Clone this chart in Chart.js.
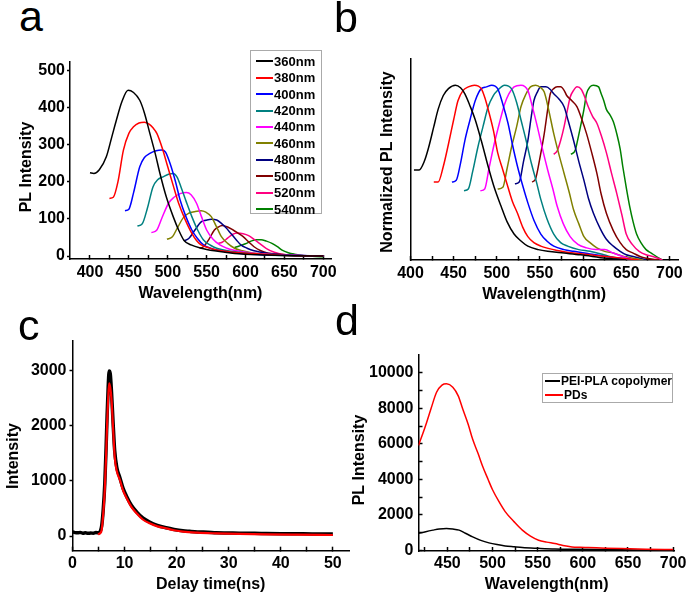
<!DOCTYPE html>
<html>
<head>
<meta charset="utf-8">
<script src="https://cdn.jsdelivr.net/npm/chart.js@4.4.1/dist/chart.umd.min.js"></script>
<style>
  body { margin: 0; background: #fff; }
  #fig { position: relative; width: 694px; height: 600px; overflow: hidden; font-family: 'Liberation Sans', Arial, sans-serif; color: #000; }
  #fig canvas { position: absolute; }
  .tag { position: absolute; font-size: 43px; line-height: 43px; }
  .legend { position: absolute; border: 1px solid #aaa; background: #fff; font-weight: bold; box-sizing: border-box; }
  .legend .row { display: flex; align-items: center; white-space: nowrap; }
  .legend .swatch { display: inline-block; height: 2px; margin-right: 1px; }
</style>
</head>
<body>
<div id="fig">
  <canvas id="chartA"></canvas>
  <canvas id="chartB"></canvas>
  <canvas id="chartC"></canvas>
  <canvas id="chartD"></canvas>
  <div class="tag" style="left:19px;top:-5px">a</div>
  <div class="tag" style="left:334px;top:-4px">b</div>
  <div class="tag" style="left:18px;top:304px">c</div>
  <div class="tag" style="left:335px;top:299px">d</div>
  <div class="legend" id="legendA" style="left:250px;top:50px;width:72px;height:164px;padding:2px 0 0 5px;font-size:13px"></div>
  <div class="legend" id="legendD" style="left:542px;top:373px;width:131px;height:30px;padding:0 0 0 2px;font-size:12px"></div>
</div>
<script>
// excitation wavelengths (panel a/b legend) and their colours
const excitation = ['360nm', '380nm', '400nm', '420nm', '440nm', '460nm', '480nm', '500nm', '520nm', '540nm'];
const excColors = ['#000000', '#ff0000', '#0000ff', '#008080', '#ff00ff', '#808000', '#000080', '#800000', '#ff0080', '#008000'];

// tick positions (labels are drawn on every `every`-th value, the rest are minor marks)
const wlTicks = [400, 425, 450, 475, 500, 525, 550, 575, 600, 625, 650, 675, 700];
const wlTicksD = [425, 450, 475, 500, 525, 550, 575, 600, 625, 650, 675, 700];
const aYTicks = [0, 100, 200, 300, 400, 500];
const cXTicks = [0, 5, 10, 15, 20, 25, 30, 35, 40, 45, 50];
const cYTicks = [0, 1000, 2000, 3000];
const dYTicks = [0, 1000, 2000, 3000, 4000, 5000, 6000, 7000, 8000, 9000, 10000];

// --- panel a: PL spectra [wavelength nm, intensity] ---
const a360 = [[400,224],[405,222],[412,232],[421,267],[428,320],[434,366],[441,415],[449,446],[456,440],[464,419],[470,385],[477,330],[484,275],[490,222],[498,160],[507,106],[514,70],[521,42],[530,30],[543,21],[560,14],[586,7],[627,3],[660,1],[700,0]];
const a380 = [[425,155],[430,158],[436,200],[443,285],[450,330],[456,348],[463,358],[470,360],[476,355],[481,345],[486,330],[493,290],[500,240],[507,190],[514,142],[522,100],[531,61],[537,42],[543,30],[553,22],[563,16],[585,10],[607,7],[640,3],[670,1],[700,0]];
const a400 = [[445,122],[450,126],[456,170],[464,240],[470,265],[477,276],[485,283],[492,285],[497,280],[503,249],[510,200],[516,150],[523,108],[531,70],[538,48],[546,30],[555,21],[563,16],[584,9],[607,5],[650,2],[700,0]];
const a420 = [[461,81],[467,86],[474,130],[481,186],[487,205],[494,213],[501,220],[507,222],[512,212],[517,186],[524,145],[531,106],[538,72],[546,43],[555,29],[563,21],[584,12],[606,7],[627,3],[665,1],[700,0]];
const a440 = [[479,63],[486,70],[493,105],[501,142],[508,158],[516,168],[524,171],[530,165],[537,142],[543,108],[550,70],[558,46],[567,30],[576,21],[584,16],[605,9],[627,5],[660,2],[700,0]];
const a460 = [[499,45],[506,52],[513,78],[521,106],[527,115],[534,119],[543,122],[549,118],[556,106],[562,82],[569,52],[577,34],[586,21],[596,14],[607,9],[628,5],[649,3],[680,1],[700,0]];
const a480 = [[521,41],[527,47],[535,70],[543,92],[549,96],[556,99],[563,97],[569,88],[575,76],[581,61],[588,44],[594,30],[602,21],[611,14],[630,7],[649,3],[680,1],[700,0]];
const a500 = [[541,21],[546,25],[553,45],[560,70],[565,78],[570,82],[577,78],[584,70],[590,62],[597,52],[604,38],[611,25],[619,15],[627,9],[648,4],[670,1],[700,0]];
const a520 = [[565,34],[570,37],[577,48],[583,58],[590,62],[597,60],[604,55],[611,45],[618,34],[627,20],[637,10],[649,4],[670,1],[700,0]];
const a540 = [[586,23],[592,27],[600,33],[607,40],[614,44],[620,44],[627,40],[634,34],[641,25],[647,16],[655,9],[663,5],[675,1],[690,-1],[700,-2]];

// --- panel b: normalized spectra ---
const b360 = [[404,0.51],[410,0.51],[416,0.56],[421,0.64],[427,0.76],[432,0.86],[438,0.94],[444,0.98],[452,1.0],[458,0.985],[463,0.95],[469,0.88],[475,0.80],[482,0.68],[490,0.53],[497,0.41],[505,0.30],[512,0.21],[520,0.14],[528,0.10],[536,0.07],[548,0.05],[559,0.04],[578,0.03],[597,0.02],[627,0.0],[650,-0.01]];
const b380 = [[427,0.44],[432,0.44],[438,0.53],[444,0.66],[450,0.80],[455,0.91],[461,0.97],[467,0.99],[474,1.0],[482,0.98],[486,0.93],[490,0.86],[496,0.74],[501,0.61],[507,0.51],[513,0.41],[518,0.33],[524,0.26],[530,0.18],[536,0.125],[543,0.09],[551,0.07],[570,0.045],[589,0.03],[608,0.02],[627,0.01],[645,0.0],[665,-0.01]];
const b400 = [[448,0.44],[453,0.45],[458,0.55],[463,0.68],[469,0.80],[475,0.91],[482,0.98],[488,0.99],[494,1.0],[501,0.98],[507,0.89],[513,0.78],[518,0.66],[524,0.53],[530,0.42],[536,0.32],[543,0.22],[551,0.14],[558,0.10],[566,0.07],[578,0.05],[589,0.04],[608,0.025],[627,0.01],[645,0.0],[658,-0.01]];
const b420 = [[462,0.39],[467,0.40],[472,0.50],[478,0.64],[484,0.76],[490,0.875],[496,0.94],[501,0.97],[509,1.0],[517,0.98],[523,0.90],[528,0.80],[534,0.68],[540,0.55],[546,0.44],[551,0.34],[558,0.23],[566,0.14],[574,0.09],[582,0.07],[595,0.05],[608,0.04],[624,0.02],[639,0.0],[665,-0.02]];
const b440 = [[481,0.39],[486,0.40],[491,0.52],[497,0.66],[503,0.78],[509,0.89],[514,0.95],[520,0.99],[528,1.0],[536,0.97],[541,0.88],[547,0.76],[553,0.63],[559,0.51],[565,0.40],[570,0.30],[577,0.20],[585,0.125],[594,0.08],[604,0.06],[615,0.05],[625,0.05],[635,0.03],[646,0.01],[665,-0.02]];
const b460 = [[501,0.40],[507,0.41],[512,0.52],[517,0.64],[523,0.76],[528,0.875],[534,0.95],[539,0.99],[545,1.0],[551,0.985],[555,0.96],[560,0.86],[566,0.72],[572,0.60],[578,0.49],[584,0.38],[589,0.28],[595,0.20],[601,0.125],[608,0.09],[616,0.06],[625,0.04],[635,0.03],[647,0.01],[658,0.0],[670,-0.01]];
const b480 = [[521,0.43],[526,0.44],[531,0.56],[536,0.68],[540,0.82],[543,0.91],[547,0.96],[551,0.99],[557,0.99],[562,0.975],[566,0.95],[572,0.92],[578,0.875],[583,0.79],[589,0.68],[595,0.56],[601,0.45],[606,0.35],[612,0.26],[620,0.17],[627,0.11],[635,0.07],[643,0.04],[650,0.02],[658,0.01],[673,-0.01]];
const b500 = [[541,0.44],[545,0.46],[550,0.58],[555,0.72],[559,0.86],[562,0.95],[566,0.98],[570,0.99],[574,0.99],[578,0.97],[581,0.94],[587,0.91],[593,0.875],[598,0.81],[604,0.72],[610,0.61],[616,0.49],[621,0.37],[627,0.26],[635,0.16],[643,0.09],[650,0.05],[658,0.03],[666,0.01],[673,0.0],[688,-0.01]];
const b520 = [[566,0.60],[570,0.62],[574,0.68],[578,0.76],[582,0.86],[585,0.93],[589,0.97],[593,0.99],[598,0.975],[602,0.93],[606,0.875],[611,0.82],[616,0.78],[621,0.71],[627,0.61],[633,0.49],[639,0.375],[645,0.25],[650,0.14],[657,0.08],[665,0.04],[673,0.02],[681,0.01],[692,-0.01]];
const b540 = [[586,0.60],[591,0.625],[594,0.69],[597,0.76],[601,0.86],[604,0.95],[608,0.99],[612,1.0],[618,0.99],[621,0.95],[624,0.91],[627,0.86],[631,0.83],[635,0.79],[639,0.72],[643,0.63],[646,0.53],[650,0.41],[654,0.30],[658,0.21],[662,0.14],[667,0.09],[673,0.05],[679,0.03],[685,0.01],[692,-0.01]];

// --- panel c: decay [delay ns, counts] ---
const cDecay = [[0,75],[0.5,62],[1,58],[1.5,66],[2,52],[2.5,60],[3,48],[3.5,55],[4,50],[4.5,62],[5,58],[5.3,80],[5.6,180],[5.9,480],[6.2,950],[6.45,1600],[6.65,2200],[6.85,2700],[7.05,3000],[7.25,2950],[7.5,2600],[7.8,2050],[8.1,1550],[8.5,1250],[9.1,1060],[9.7,870],[10.4,720],[11.3,560],[12.3,440],[13.5,330],[14.8,255],[16.3,195],[18,150],[19.5,120],[21.2,95],[22.5,85],[24,75],[26,68],[27.6,60],[30,55],[32,50],[35,48],[37.2,45],[40,42],[43,40],[46,38],[50,36]];
const cFit = [[4.9,30],[5.3,50],[5.6,110],[5.9,400],[6.2,836],[6.45,1450],[6.65,2048],[6.85,2500],[7.03,2776],[7.25,2700],[7.5,2470],[7.8,1950],[8.1,1440],[8.5,1180],[9.1,1018],[9.7,830],[10.4,685],[11.3,530],[12.3,412],[13.5,300],[14.8,230],[16.3,175],[18,139],[19.5,105],[21.2,79],[24,60],[27.6,48],[32,38],[37.2,30],[43,24],[50,18]];

// --- panel d: PL spectra ---
const dNames = ['PEI-PLA copolymer', 'PDs'];
const dPEI = [[418,947],[426,1050],[434,1136],[441,1200],[449,1230],[456,1200],[463,1136],[470,960],[478,758],[487,560],[496,417],[505,320],[514,246],[524,195],[533,152],[551,110],[569,76],[596,55],[624,38],[660,20],[700,5]];
const dPD = [[418,5909],[423,6600],[427,7197],[432,8000],[438,8900],[444,9300],[449,9375],[456,9186],[462,8700],[467,7955],[473,7100],[478,6250],[484,5450],[489,4735],[495,4000],[500,3409],[507,2750],[514,2178],[524,1600],[533,1136],[542,800],[551,568],[560,460],[569,379],[578,270],[588,190],[597,165],[606,152],[625,120],[643,95],[670,65],[700,38]];

const font16 = { family: "'Liberation Sans', Arial, sans-serif", size: 16, weight: 'bold' };

function line(arr, color, width) {
    return { data: arr.map(([x, y]) => ({ x, y })), borderColor: color, borderWidth: width || 1.5,
             pointRadius: 0, fill: false, cubicInterpolationMode: 'monotone' };
}

// linear axis on a fixed tick list; negative tl = tick marks pointing into the plot
function axis(o) {
    return {
        type: 'linear', min: o.min, max: o.max,
        border: { display: true, color: '#000', width: 1.5 },
        grid: { drawOnChartArea: false, drawTicks: !!o.tl, tickLength: o.tl || 0, tickColor: '#000', tickWidth: 1.5 },
        afterBuildTicks: s => { s.ticks = o.ticks.map(v => ({ value: v })); },
        ticks: { display: o.labels !== false, padding: o.pad || 0, color: '#000', font: font16,
                 autoSkip: false, maxRotation: 0,
                 callback: v => (v % o.every === 0 ? String(v) : '') },
        title: { display: !!o.tpad, text: o.title, color: '#000', font: font16, padding: o.tpad }
    };
}

// y titles in the original sit a little below the middle of the axis, so they are placed by hand
const yTitle = {
    id: 'yTitle',
    afterDraw(chart, args, opts) {
        if (!opts.text) return;
        const ctx = chart.ctx;
        ctx.save();
        ctx.font = "bold 16px 'Liberation Sans', Arial, sans-serif";
        ctx.fillStyle = '#000';
        ctx.textAlign = 'center';
        ctx.textBaseline = 'middle';
        ctx.translate(opts.x, opts.y);
        ctx.rotate(-Math.PI / 2);
        ctx.fillText(opts.text, 0, 0);
        ctx.restore();
    }
};

function panel(id, box, plot, datasets, xs, ys, yt) {
    const cv = document.getElementById(id);
    cv.width = box.w; cv.height = box.h;
    cv.style.left = box.x + 'px'; cv.style.top = box.y + 'px';
    const yW = plot.l - box.x, xH = box.y + box.h - plot.b;
    xs.afterFit = s => { s.height = xH; };
    ys.afterFit = s => { s.width = yW; };
    return new Chart(cv, {
        type: 'line',
        data: { datasets },
        options: {
            responsive: false, animation: false, devicePixelRatio: 1,
            layout: { padding: { left: 0, top: plot.t - box.y, right: box.x + box.w - plot.r, bottom: 0 } },
            plugins: { legend: { display: false }, tooltip: { enabled: false },
                       yTitle: { text: yt.text, x: yt.x - box.x, y: yt.y - box.y } },
            scales: { x: xs, y: ys }
        },
        plugins: [yTitle]
    });
}

// a
const aSeries = [a360, a380, a400, a420, a440, a460, a480, a500, a520, a540];
panel('chartA', { x: 0, y: 40, w: 345, h: 265 }, { l: 70, t: 62, r: 331.7, b: 259 },
    aSeries.map((s, i) => line(s, excColors[i])),
    axis({ min: 374.3, max: 710, ticks: wlTicks, every: 50, tl: -4, pad: 8, title: 'Wavelength(nm)', tpad: { top: 0, bottom: 1.4 } }),
    axis({ min: -8, max: 522, ticks: aYTicks, every: 100, tl: 3, pad: 2 }),
    { text: 'PL Intensity', x: 27, y: 167 });

// b
const bSeries = [b360, b380, b400, b420, b440, b460, b480, b500, b520, b540];
panel('chartB', { x: 345, y: 40, w: 349, h: 265 }, { l: 410.5, t: 58.3, r: 678, b: 260 },
    bSeries.map((s, i) => line(s, excColors[i])),
    axis({ min: 400, max: 710, ticks: wlTicks, every: 50, tl: -4, pad: 7.5, title: 'Wavelength(nm)', tpad: { top: 0, bottom: 0.4 } }),
    axis({ min: -0.01, max: 1.155, ticks: [], every: 1, labels: false }),
    { text: 'Normalized PL Intensity', x: 387.5, y: 162 });

// c
panel('chartC', { x: 0, y: 320, w: 352, h: 280 }, { l: 72.5, t: 340.7, r: 349, b: 550.7 },
    [line(cFit, '#ff0000', 2.2), line(cDecay, '#000000', 3.5)],
    axis({ min: 0, max: 53.1, ticks: cXTicks, every: 10, tl: -4, pad: 7.7, title: 'Delay time(ns)', tpad: { top: 0, bottom: 5.9 } }),
    axis({ min: -267, max: 3550, ticks: cYTicks, every: 1000, tl: 3, pad: 3 }),
    { text: 'Intensity', x: 13.5, y: 456 });

// d
panel('chartD', { x: 345, y: 320, w: 349, h: 280 }, { l: 418.5, t: 355, r: 676, b: 551 },
    [line(dPD, '#ff0000', 1.5), line(dPEI, '#000000', 1.5)],
    axis({ min: 418, max: 702, ticks: wlTicksD, every: 50, tl: -4, pad: 7.4, title: 'Wavelength(nm)', tpad: { top: 0, bottom: 5.9 } }),
    axis({ min: -40, max: 11000, ticks: dYTicks, every: 2000, tl: -4, pad: 9 }),
    { text: 'PL Intensity', x: 360, y: 460 });

// legends
function fillLegend(id, names, colors, rowH, swW) {
    const el = document.getElementById(id);
    names.forEach((n, i) => {
        const row = document.createElement('div');
        row.className = 'row';
        row.style.height = rowH + 'px';
        row.innerHTML = '<span class="swatch" style="width:' + swW + 'px;background:' + colors[i] + '"></span>' + n;
        el.appendChild(row);
    });
}
fillLegend('legendA', excitation, excColors, 16.44, 17);
fillLegend('legendD', dNames, ['#000000', '#ff0000'], 14, 18);
</script>
</body>
</html>
